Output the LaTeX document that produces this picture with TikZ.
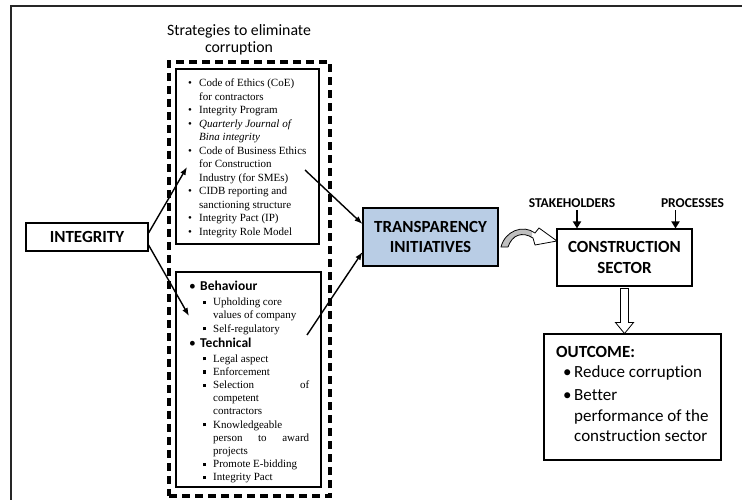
\documentclass[tikz,border=0pt]{standalone}
\usepackage{fontspec}
\setmainfont{Liberation Serif}
\setsansfont{Carlito}[Ligatures=NoCommon]
\usetikzlibrary{positioning, arrows.meta, calc}

\definecolor{tblue}{RGB}{185,205,229}

\tikzset{
  box/.style={draw, line width=1.1pt, inner sep=0pt},
  listtext/.style={anchor=north west, inner sep=0pt, align=left},
  headbox/.style={box, align=center, font=\sffamily\bfseries\fontsize{17}{20.5}\selectfont},
  dashbox/.style={draw, line width=3.2pt, dash pattern=on 8pt off 5pt},
  arr/.style={-{Latex[length=8pt,width=6pt]}, line width=1.4pt},
  smallarr/.style={-{Triangle[length=7pt,width=8pt]}, line width=1.8pt},
  tagtext/.style={inner sep=2pt, font=\sffamily\bfseries\fontsize{13.5}{15}\selectfont},
}

\newcommand{\bul}{\makebox[11pt][l]{\textbullet}}
\newcommand{\ind}{\hspace*{11pt}}
\newcommand{\hd}[1]{\makebox[12pt][l]{\hspace{1pt}\sffamily\fontsize{13.5}{15}\selectfont\textbullet}{\sffamily\bfseries\fontsize{13.5}{15}\selectfont #1}}
\newcommand{\sqb}{\hspace*{13pt}\makebox[12pt][l]{\hspace{2pt}\rule[1.6pt]{3.2pt}{3.2pt}}}
\newcommand{\sqind}{\hspace*{25pt}}
\newcommand{\obul}{\hspace*{7pt}\makebox[11pt][l]{\textbullet}}
\newcommand{\curvpath}{(501,247) .. controls (505,231) and (523,224) .. (535,233) -- (539,228) -- (557,241) -- (535,245) -- (533,238) .. controls (522,231) and (512,235) .. (508,247) -- cycle}

\begin{document}
\begin{tikzpicture}[x=1pt, y=-1pt]
  \useasboundingbox (0,0) rectangle (742,500);
  % outer frame
  \draw[line width=1.2pt, black!85] (11,510) -- (11,6) -- (750,6);

  % strategies block
  \node (title) [align=center, font=\sffamily\fontsize{15.8}{17}\selectfont] at (239,40) {Strategies to eliminate\\corruption};
  \node (strat) [dashbox, minimum width=161pt, minimum height=434pt] at (249.5,279) {};
  \node (upper) [box, minimum width=143pt, minimum height=175pt] at (247.5,156.5) {};
  \node (lower) [box, minimum width=145pt, minimum height=215pt] at (248.5,379.5) {};
  \node (uppertext) [listtext, font=\fontsize{11}{13.5}\selectfont] at (188,79) {%
    \bul Code of Ethics (CoE)\\
    \ind for contractors\\
    \bul Integrity Program\\
    \bul \textit{Quarterly Journal of}\\
    \ind \textit{Bina integrity}\\
    \bul Code of Business Ethics\\
    \ind for Construction\\
    \ind Industry (for SMEs)\\
    \bul CIDB reporting and\\
    \ind sanctioning structure\\
    \bul Integrity Pact (IP)\\
    \bul Integrity Role Model};
  \node (lowertext) [listtext, font=\fontsize{11}{13.2}\selectfont] at (188,281) {%
    \hd{Behaviour}\\[1.8pt]
    \sqb Upholding core\\
    \sqind values of company\\
    \sqb Self-regulatory\\[1.8pt]
    \hd{Technical}\\[1.8pt]
    \sqb Legal aspect\\
    \sqb Enforcement\\
    \sqb \makebox[96pt][s]{Selection of}\\
    \sqind competent\\
    \sqind contractors\\
    \sqb Knowledgeable\\
    \sqind \makebox[96pt][s]{person to award}\\
    \sqind projects\\
    \sqb Promote E-bidding\\
    \sqb Integrity Pact};

  % main boxes
  \node (integrity) [headbox, minimum width=122pt, minimum height=28pt] at (87,237) {INTEGRITY};
  \node (transp) [headbox, fill=tblue, minimum width=135pt, minimum height=58pt] at (430.5,237) {TRANSPARENCY\\INITIATIVES};
  \node (constr) [headbox, minimum width=135pt, minimum height=57pt] at (624.5,257.5) {CONSTRUCTION\\SECTOR};
  \node (stake) [tagtext] at (572,203.5) {STAKEHOLDERS};
  \node (proc) [tagtext] at (692.5,203.5) {PROCESSES};
  \node (outcome) [box, minimum width=177pt, minimum height=126pt] at (632.5,397) {};
  \node (outtext) [listtext, font=\sffamily\fontsize{17}{20.5}\selectfont] at (556,346) {%
    {\bfseries OUTCOME:}\\
    \obul Reduce corruption\\[2.5pt]
    \obul Better\\
    \hspace*{18pt}performance of the\\
    \hspace*{18pt}construction sector};

  % connectors
  \coordinate (upin) at (187,167);
  \coordinate (lowin) at (189,316);
  \coordinate (upout) at (305,170);
  \coordinate (lowout) at (307,335);
  \draw[arr] ([yshift=4pt]integrity.east) -- (upin);
  \draw[arr] ([yshift=-8pt]integrity.east) -- (lowin);
  \draw[arr] (upout) -- ([yshift=13pt]transp.west);
  \draw[arr] (lowout) -- ([yshift=-15pt]transp.west);

  \draw[smallarr] ([xshift=5pt]stake.south) -- ([xshift=5pt]stake.south |- constr.north);
  \draw[smallarr] ([xshift=-17pt]proc.south) -- ([xshift=-17pt]proc.south |- constr.north);

  % curved arrow
  \begin{scope}
    \clip (495,215) rectangle (532,255);
    \fill[gray!50] \curvpath;
  \end{scope}
  \draw[line width=0.8pt, line join=round] \curvpath;

  % block arrow down
  \draw[line width=0.8pt, fill=white] ($(constr.south)+(-4,2)$) -- ++(0,34) -- ++(-5,0) -- ++(9,11) -- ++(9,-11) -- ++(-5,0) -- ++(0,-34) -- cycle;
\end{tikzpicture}
\end{document}
